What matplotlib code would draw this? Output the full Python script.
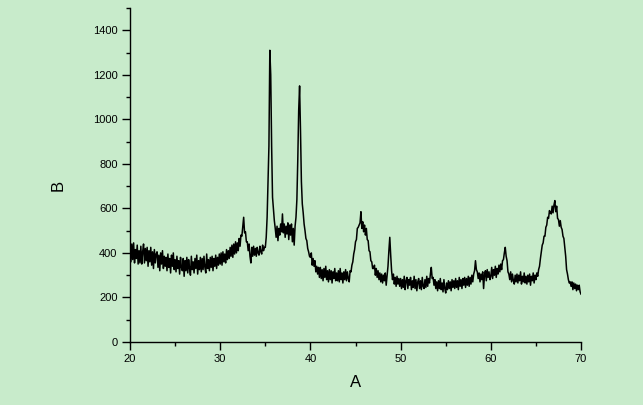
import numpy as np
import matplotlib.pyplot as plt
from matplotlib.ticker import MultipleLocator

# diffraction angle grid, 20..70 in steps of 0.1
two_theta = np.round(np.linspace(20, 70, 501), 1)

# intensity, one row per degree
intensity = [
    420, 360, 440, 370, 445, 355, 415, 375, 435, 350,   # 20
    410, 355, 430, 350, 405, 440, 355, 420, 365, 425,   # 21
    340, 410, 360, 425, 345, 405, 330, 415, 355, 395,   # 22
    405, 335, 390, 320, 400, 350, 410, 330, 385, 340,   # 23
    380, 320, 395, 335, 375, 310, 390, 340, 400, 325,   # 24
    370, 315, 385, 330, 365, 305, 380, 335, 320, 375,   # 25
    295, 365, 320, 380, 310, 370, 330, 300, 385, 325,   # 26
    360, 310, 375, 330, 390, 305, 365, 325, 380, 315,   # 27
    375, 325, 385, 335, 310, 395, 330, 370, 320, 380,   # 28
    335, 385, 320, 375, 340, 390, 330, 380, 345, 395,   # 29
    350, 400, 345, 405, 360, 395, 355, 415, 370, 410,   # 30
    375, 425, 385, 435, 380, 440, 395, 450, 400, 445,   # 31
    410, 465, 430, 480, 475, 520, 560, 490, 495, 450,   # 32
    450, 410, 440, 385, 355, 425, 385, 430, 390, 420,   # 33
    385, 425, 400, 390, 430, 405, 395, 435, 410, 425,   # 34
    425, 470, 560, 730, 880, 1310, 1200, 880, 650, 600, # 35
    545, 510, 470, 520, 455, 510, 480, 530, 495, 575,   # 36
    490, 530, 470, 520, 485, 535, 460, 525, 480, 530,   # 37
    450, 510, 435, 520, 560, 640, 820, 1040, 1150, 950, # 38
    720, 620, 580, 530, 500, 465, 455, 420, 405, 385,   # 39
    380, 400, 345, 375, 340, 365, 315, 340, 305, 335,   # 40
    290, 335, 285, 325, 275, 330, 290, 340, 280, 320,   # 41
    270, 325, 280, 320, 265, 315, 285, 330, 275, 310,   # 42
    275, 320, 270, 330, 280, 310, 265, 315, 280, 325,   # 43
    275, 315, 285, 270, 320, 315, 345, 360, 395, 415,   # 44
    450, 460, 510, 515, 525, 535, 585, 510, 540, 495,   # 45
    525, 480, 510, 460, 455, 410, 405, 365, 360, 330,   # 46
    330, 345, 300, 330, 290, 320, 280, 310, 270, 305,   # 47
    265, 300, 275, 310, 255, 300, 340, 410, 470, 390,   # 48
    320, 280, 305, 260, 290, 250, 295, 260, 285, 250,   # 49
    285, 240, 280, 245, 295, 235, 275, 290, 240, 280,   # 50
    255, 290, 235, 275, 245, 295, 240, 280, 230, 270,   # 51
    285, 240, 275, 235, 290, 250, 240, 280, 245, 295,   # 52
    250, 285, 265, 305, 335, 285, 290, 255, 280, 240,   # 53
    270, 230, 275, 240, 285, 235, 265, 225, 280, 240,   # 54
    220, 265, 235, 275, 240, 270, 230, 280, 245, 275,   # 55
    240, 285, 245, 275, 235, 290, 250, 280, 240, 285,   # 56
    255, 290, 245, 285, 255, 295, 250, 290, 260, 300,   # 57
    270, 305, 320, 365, 325, 315, 285, 310, 270, 305,   # 58
    280, 315, 240, 300, 320, 275, 325, 290, 315, 280,   # 59
    295, 335, 285, 325, 300, 340, 290, 330, 305, 345,   # 60
    315, 350, 325, 365, 370, 400, 425, 385, 365, 315,   # 61
    305, 280, 315, 270, 305, 275, 260, 300, 270, 305,   # 62
    265, 300, 275, 315, 260, 295, 270, 310, 265, 295,   # 63
    260, 300, 270, 305, 255, 295, 275, 310, 265, 300,   # 64
    280, 310, 295, 325, 340, 375, 405, 435, 445, 475,   # 65
    475, 515, 525, 560, 555, 590, 580, 575, 610, 580,   # 66
    615, 635, 585, 610, 555, 550, 520, 545, 515, 505,   # 67
    475, 465, 425, 385, 325, 305, 280, 265, 270, 250,   # 68
    270, 235, 265, 240, 260, 230, 255, 235, 255, 225,   # 69
    215,                                                # 70
]

x_label = "A"
y_label = "B"
bg = "#c8ebcb"

plt.rcParams['font.family'] = ['Liberation Sans', 'DejaVu Sans']

fig = plt.figure(figsize=(6.43, 4.05), dpi=100, facecolor=bg)
ax = fig.add_axes([0.2022, 0.1556, 0.7014, 0.8247], facecolor=bg)

ax.plot(two_theta, intensity, color='black', lw=1.1)

ax.set_xlim(20, 70)
ax.set_ylim(0, 1500)
ax.xaxis.set_major_locator(MultipleLocator(10))
ax.xaxis.set_minor_locator(MultipleLocator(5))
ax.yaxis.set_minor_locator(MultipleLocator(100))
ax.set_yticks([0, 200, 400, 600, 800, 1000, 1200, 1400])

for side in ['top', 'right']:
    ax.spines[side].set_visible(False)
for side in ['left', 'bottom']:
    ax.spines[side].set_linewidth(1.0)

ax.tick_params(which='major', direction='out', length=6, width=1,
               labelsize=8, colors='black', pad=3)
ax.tick_params(which='minor', direction='out', length=3, width=1)

ax.set_xlabel(x_label, fontsize=12)
ax.set_ylabel(y_label, fontsize=12)
ax.xaxis.set_label_coords(0.5, -0.10)
ax.yaxis.set_label_coords(-0.142, 0.47)

fig.savefig("out.png", dpi=100, facecolor=bg)
